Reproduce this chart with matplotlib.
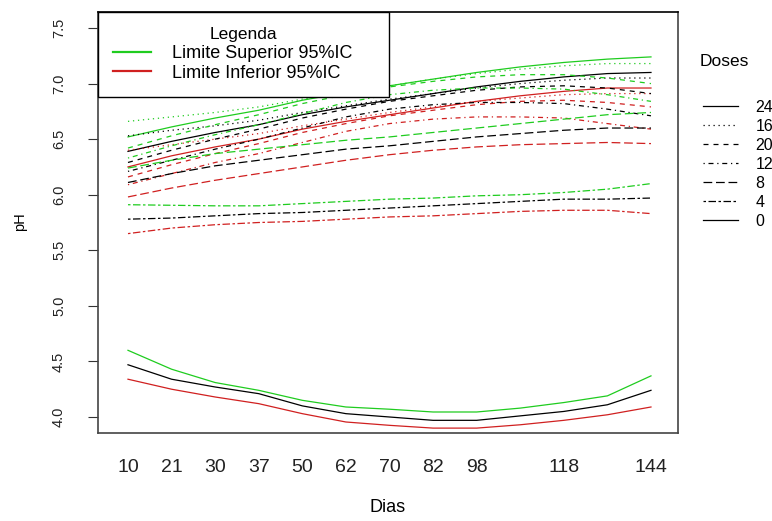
#pH ao longo dos dias por dose, com limites do IC 95%

import numpy as np
import matplotlib
matplotlib.use("Agg")
import matplotlib.pyplot as plt
from matplotlib.lines import Line2D

plt.rcParams["font.family"] = ["Liberation Sans", "DejaVu Sans"]

# dias de amostragem (dois rotulos ficaram ocultos no grafico original)
dias = ["10", "21", "30", "37", "50", "62", "70", "82", "98", "", "118", "", "144"]
doses = ["24", "16", "20", "12", "8", "4", "0"]

media_24 = [6.39, 6.48, 6.56, 6.63, 6.72, 6.79, 6.85, 6.91, 6.97, 7.02, 7.06, 7.09, 7.10]
sup_24 = [6.52, 6.61, 6.69, 6.76, 6.85, 6.92, 6.98, 7.04, 7.10, 7.15, 7.19, 7.22, 7.24]
inf_24 = [6.25, 6.35, 6.43, 6.50, 6.59, 6.66, 6.72, 6.78, 6.84, 6.89, 6.93, 6.96, 6.96]

media_16 = [6.53, 6.58, 6.62, 6.67, 6.74, 6.80, 6.86, 6.91, 6.96, 7.00, 7.03, 7.05, 7.05]
sup_16 = [6.66, 6.70, 6.74, 6.79, 6.86, 6.92, 6.98, 7.04, 7.09, 7.13, 7.16, 7.18, 7.18]
inf_16 = [6.40, 6.45, 6.50, 6.55, 6.62, 6.68, 6.74, 6.79, 6.84, 6.87, 6.90, 6.91, 6.91]

media_20 = [6.29, 6.40, 6.50, 6.59, 6.69, 6.77, 6.84, 6.89, 6.94, 6.97, 6.98, 6.96, 6.91]
sup_20 = [6.42, 6.53, 6.63, 6.72, 6.82, 6.90, 6.97, 7.02, 7.06, 7.08, 7.08, 7.05, 7.00]
inf_20 = [6.16, 6.27, 6.37, 6.46, 6.56, 6.64, 6.71, 6.76, 6.81, 6.84, 6.85, 6.83, 6.79]

media_12 = [6.21, 6.31, 6.41, 6.50, 6.60, 6.70, 6.77, 6.81, 6.83, 6.83, 6.82, 6.77, 6.71]
sup_12 = [6.33, 6.44, 6.54, 6.63, 6.73, 6.83, 6.90, 6.94, 6.96, 6.96, 6.95, 6.90, 6.84]
inf_12 = [6.09, 6.19, 6.29, 6.37, 6.47, 6.57, 6.64, 6.68, 6.70, 6.70, 6.69, 6.64, 6.59]

media_8 = [6.11, 6.19, 6.26, 6.31, 6.36, 6.41, 6.44, 6.48, 6.52, 6.55, 6.58, 6.60, 6.60]
sup_8 = [6.24, 6.31, 6.37, 6.41, 6.45, 6.49, 6.52, 6.56, 6.60, 6.64, 6.68, 6.72, 6.74]
inf_8 = [5.98, 6.06, 6.13, 6.19, 6.25, 6.31, 6.36, 6.40, 6.43, 6.45, 6.46, 6.47, 6.46]

media_4 = [5.78, 5.79, 5.81, 5.83, 5.84, 5.86, 5.88, 5.90, 5.92, 5.94, 5.96, 5.96, 5.97]
sup_4 = [5.91, 5.905, 5.90, 5.90, 5.92, 5.94, 5.96, 5.97, 5.99, 6.00, 6.02, 6.05, 6.10]
inf_4 = [5.65, 5.70, 5.73, 5.75, 5.76, 5.78, 5.80, 5.81, 5.83, 5.85, 5.86, 5.86, 5.83]

media_0 = [4.47, 4.34, 4.27, 4.21, 4.10, 4.03, 4.00, 3.97, 3.97, 4.01, 4.05, 4.11, 4.24]
sup_0 = [4.60, 4.43, 4.31, 4.24, 4.15, 4.09, 4.07, 4.045, 4.045, 4.08, 4.13, 4.19, 4.37]
inf_0 = [4.34, 4.25, 4.18, 4.12, 4.03, 3.955, 3.925, 3.90, 3.90, 3.93, 3.97, 4.02, 4.09]

GREEN = "#1fcc1f"
RED = "#d02020"

# tipos de linha do R: solid, dotted, dashed, dotdash, longdash, twodash, solid
LINE_STYLES = ["-", (0, (1, 3)), (0, (4, 4)), (0, (1, 3, 4, 3)),
               (0, (7, 3)), (0, (2, 2, 6, 2)), "-"]


def plot_ph_dias():
    medias = [media_24, media_16, media_20, media_12, media_8, media_4, media_0]
    sups = [sup_24, sup_16, sup_20, sup_12, sup_8, sup_4, sup_0]
    infs = [inf_24, inf_16, inf_20, inf_12, inf_8, inf_4, inf_0]

    fig = plt.figure(figsize=(7.72, 5.21), dpi=100)
    ax = fig.add_axes([98 / 772, 88 / 521, 580 / 772, 421 / 521])

    x = np.arange(len(dias))
    for media, sup, inf, ls in zip(medias, sups, infs, LINE_STYLES):
        ax.plot(x, media, color="black", ls=ls, lw=0.9)
        ax.plot(x, sup, color=GREEN, ls=ls, lw=0.9)
        ax.plot(x, inf, color=RED, ls=ls, lw=0.9)

    ax.set_xlim(-0.688, 12.62)
    ax.set_ylim(3.856, 7.644)

    yticks = np.arange(4.0, 7.51, 0.5)
    ax.set_yticks(yticks, ["%.1f" % v for v in yticks])
    ax.tick_params(axis="y", labelrotation=90, length=7, pad=16,
                   labelsize=10.5, labelcolor="#222222", color="#333333")
    for lab in ax.get_yticklabels():
        lab.set_va("center")
    ax.set_xticks(x, dias)
    ax.tick_params(axis="x", length=0, pad=19, labelsize=14,
                   labelcolor="#222222")

    for spine in ax.spines.values():
        spine.set_color("#444444")
        spine.set_linewidth(1.2)
    ax.spines["top"].set_color("black")

    handles = [Line2D([], [], color=GREEN, lw=1.6),
               Line2D([], [], color=RED, lw=1.6)]
    leg = ax.legend(handles, ["Limite Superior 95%IC", "Limite Inferior 95%IC"],
                    title="Legenda", loc="upper left",
                    bbox_to_anchor=(0, 1, 291 / 580, 0), mode="expand",
                    borderaxespad=0, fancybox=False, edgecolor="black",
                    framealpha=1, fontsize=13, title_fontsize=12.5,
                    handlelength=2.1, handletextpad=1.15, labelspacing=0.15,
                    borderpad=0.85)
    leg.get_frame().set_linewidth(1.0)

    dose_handles = [Line2D([], [], color="black", ls=ls, lw=0.9)
                    for ls in LINE_STYLES]
    fig.legend(dose_handles, doses, loc="upper left",
               bbox_to_anchor=(695 / 772, 1 - 92 / 521), frameon=False,
               fontsize=11.5, handlelength=2.2, handletextpad=1.1,
               labelspacing=0.25, borderpad=0)

    fig.text(700 / 772, 1 - 62 / 521, "Doses", fontsize=12.5, va="center")
    fig.text(388 / 772, 1 - 508 / 521, "Dias", fontsize=13,
             ha="center", va="center")
    fig.text(20 / 772, 1 - 222 / 521, "pH", fontsize=10.5, rotation=90,
             ha="center", va="center")

    fig.savefig("out.png", dpi=100)


if __name__ == "__main__":
    plot_ph_dias()
